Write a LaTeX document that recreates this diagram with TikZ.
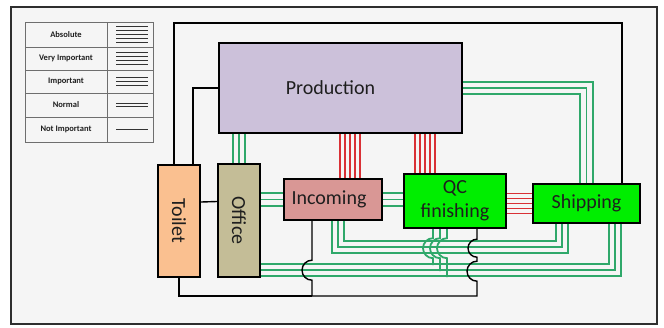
\documentclass[tikz,border=0pt]{standalone}
\usepackage{fontspec}
\setmainfont{Carlito}
\usepackage{xcolor}
\usetikzlibrary{calc}
\definecolor{papel}{HTML}{F5F5F5}
\definecolor{moldura}{HTML}{2E2E2E}
\definecolor{grelha}{HTML}{6E6E6E}
\definecolor{texto}{HTML}{1E1E1E}
\definecolor{lilas}{HTML}{CCC1DA}
\definecolor{pessego}{HTML}{FAC090}
\definecolor{caqui}{HTML}{C4BD97}
\definecolor{rosado}{HTML}{D99795}
\definecolor{lima}{HTML}{00EE00}
\definecolor{verdefio}{HTML}{2FA86A}
\definecolor{vermfio}{HTML}{D93035}
\pgfdeclarelayer{fundo}
\pgfdeclarelayer{fios}
\pgfsetlayers{fundo,fios,main}
\tikzset{
  area/.style={rectangle, draw=black, line width=2.4pt, inner sep=0pt, text=texto,
    font=\fontsize{20}{24}\selectfont, align=center},
  fio/.style={draw=black, line width=1.4pt},
  fioverde/.style={draw=verdefio, line width=1.8pt},
  tripla/.style={draw=verdefio, line width=14.1pt,
    postaction={draw=papel, line width=10.5pt},
    postaction={draw=verdefio, line width=1.8pt}},
  quintupla/.style={draw=vermfio, line width=21.5pt,
    postaction={draw=papel, line width=18.5pt},
    postaction={draw=vermfio, line width=11.5pt},
    postaction={draw=papel, line width=8.5pt},
    postaction={draw=vermfio, line width=1.5pt}},
  legenda/.style={font=\bfseries\fontsize{8.5}{10}\selectfont, text=texto},
  amostra/.style={draw=black!80, line width=1pt},
  ponte/.style={start angle=-90, end angle=-270},
}

\begin{document}
\begin{tikzpicture}[x=1pt, y=-1pt]
    \useasboundingbox (0,0) rectangle (664,327);
    \begin{pgfonlayer}{fundo}
      \draw[moldura, fill=papel, line width=1.2pt] (11,7) rectangle (657,324);
    \end{pgfonlayer}

    % legend
    \draw[grelha, line width=1pt] (25,22) rectangle (153,142);
    \draw[grelha, line width=1pt] (107,22) -- (107,142);
    \foreach \yy in {47,70,93,117}
      \draw[grelha, line width=1pt] (25,\yy) -- (153,\yy);
    \foreach \nome/\n/\cy [count=\i] in {Absolute/5/34.5, Very Important/4/58.5, Important/3/81.5, Normal/2/105, Not Important/1/129.5} {
      \node[legenda] (leg\i) at (66,\cy) {\nome};
      \foreach \k in {1,...,\n}
        \draw[amostra] (116,{\cy+(\k-(\n+1)/2)*3.8}) -- (148,{\cy+(\k-(\n+1)/2)*3.8});
    }

    % areas (toilet and office are turned: their west is the top, north the right)
    \node[area, fill=lilas, minimum width=243pt, minimum height=90pt] (prod) at (340.5,88) {Production\hspace{20pt}};
    \node[area, fill=pessego, rotate=-90, minimum width=112pt, minimum height=42pt] (toilet) at (179,221) {Toilet};
    \node[area, fill=caqui, rotate=-90, minimum width=113pt, minimum height=42pt] (office) at (239,220.5) {Office};
    \node[area, fill=rosado, minimum width=98pt, minimum height=41pt] (inc) at (333,199.5) {Incoming\hspace{8pt}};
    \node[area, fill=lima, minimum width=102pt, minimum height=54pt] (qc) at (455,201) {QC\\finishing};
    \node[area, fill=lima, minimum width=107pt, minimum height=39pt] (ship) at (586.5,203.5) {Shipping};

    \coordinate (anel) at (622,23);
    \coordinate (e1) at (562,247);
    \coordinate (f1) at (615,270);
    \coordinate (baixo) at (312,296);

    \begin{pgfonlayer}{fios}
      % absolute
      \draw[quintupla] ($(inc.north)+(17,0)$) -- ($(inc.north |- prod.south)+(17,0)$);
      \draw[quintupla] ($(qc.north)+(-30,0)$) -- ($(qc.north |- prod.south)+(-30,0)$);
      \draw[quintupla] (ship.west) -- (ship.west -| qc.east);
      % important
      \draw[tripla] (office.west) -- (office.west |- prod.south);
      \draw[tripla] (inc.west) -- (inc.west -| office.north);
      \draw[tripla] (inc.east) -- (inc.east -| qc.west);
      \draw[tripla] (prod.east) -| (ship.north);
      \draw[tripla] ($(inc.south)+(5,0)$) |- (e1) -- (e1 |- ship.south);
      \draw[tripla] (office.north |- f1) -- (f1) -- (f1 |- ship.south);
      \foreach \dx/\yb in {-7/264, 0/270, 7/276}
        \draw[fioverde] ($(qc.south)+(\dx-15,0)$) -- ++(0,9) arc[ponte, radius=10] -- ++(0,{\yb-257});
      % not important
      \draw[fio] ($(toilet.west)+(-5,0)$) |- (anel) -- (anel |- ship.north);
      \draw[fio] ($(toilet.west)+(14,0)$) |- (prod.west);
      \draw[fio] ([yshift=19pt]toilet.north) -- ([yshift=19pt]office.south);
      \draw[fio] (toilet.east) |- (baixo);
      \draw[fio] ($(inc.south)+(-21,0)$) -- ++(0,39) arc[ponte, radius=10] -- (baixo);
      \draw[fio] ($(qc.south)+(22,0)$) -- ++(0,10) arc[ponte, radius=9] -- ++(0,4) arc[ponte, radius=10] |- (baixo);
    \end{pgfonlayer}
  \end{tikzpicture}
\end{document}
